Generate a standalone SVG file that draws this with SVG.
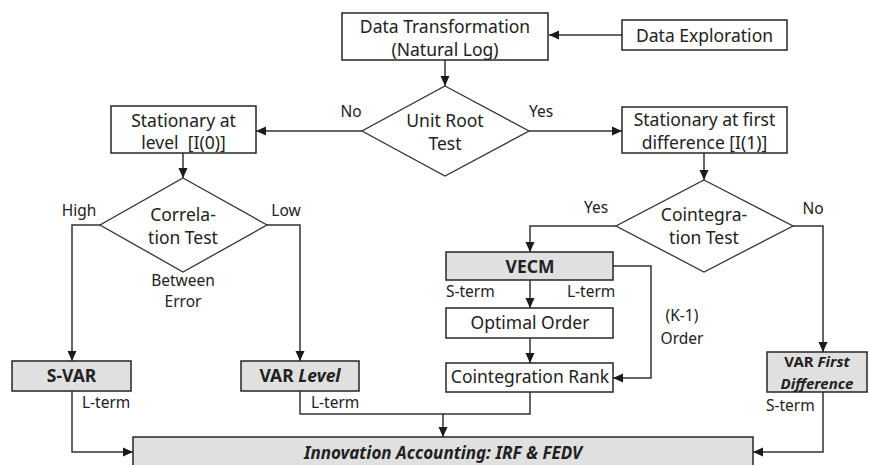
<svg xmlns="http://www.w3.org/2000/svg" width="869" height="465" viewBox="0 0 869 465">
<defs>
<marker id="ah" markerUnits="userSpaceOnUse" markerWidth="10" markerHeight="10" viewBox="0 0 10 10" refX="10" refY="5" orient="auto">
<path d="M0,0.5 L10,5 L0,9.5 Z" fill="#1a1a1a"/>
</marker>
<style>
.box{fill:#fff;stroke:#262626;stroke-width:1.5}
.gbox{fill:#e0e0e0;stroke:#262626;stroke-width:1.5}
.dia{fill:#fff;stroke:#333;stroke-width:1.3}
.t{font-family:"Noto Sans","Open Sans",sans-serif;font-size:17.5px;fill:#222;text-anchor:middle}
.b{font-weight:bold}
.i{font-style:italic}
.lbl{font-family:"Noto Sans","Open Sans",sans-serif;font-size:15.5px;fill:#222}
.c{fill:none;stroke:#333;stroke-width:1.5}
.ar{marker-end:url(#ah)}
</style>
</defs>
<rect width="869" height="465" fill="#fff"/>
<g id="connectors">
<line class="c ar" x1="622" y1="35" x2="549" y2="35"/>
<line class="c ar" x1="445" y1="60" x2="445" y2="86"/>
<line class="c ar" x1="362" y1="131" x2="256" y2="131"/>
<line class="c ar" x1="529" y1="131" x2="622" y2="131"/>
<line class="c ar" x1="183" y1="153" x2="183" y2="178"/>
<polyline class="c ar" points="100,225 72,225 72,361"/>
<polyline class="c ar" points="267,225 300,225 300,361"/>
<line class="c ar" x1="704" y1="153" x2="704" y2="180"/>
<polyline class="c ar" points="616,226 530,226 530,252"/>
<polyline class="c ar" points="793,226 823,226 823,352"/>
<line class="c ar" x1="530" y1="280" x2="530" y2="308"/>
<line class="c ar" x1="530" y1="338" x2="530" y2="363"/>
<polyline class="c ar" points="613,266 651,266 651,378 613,378"/>
<polyline class="c ar" points="72,391 72,452 133,452"/>
<polyline class="c ar" points="300,391 300,414 443,414 443,437"/>
<polyline class="c" points="530,392 530,414 443,414"/>
<polyline class="c ar" points="823,392 823,452 753,452"/>
<text class="lbl" x="351" y="117" text-anchor="middle">No</text>
<text class="lbl" x="541" y="117" text-anchor="middle">Yes</text>
<text class="lbl" x="79" y="216" text-anchor="middle">High</text>
<text class="lbl" x="286" y="216" text-anchor="middle">Low</text>
<text class="lbl" x="183" y="286" text-anchor="middle">Between</text>
<text class="lbl" x="183" y="307" text-anchor="middle">Error</text>
<text class="lbl" x="596" y="213" text-anchor="middle">Yes</text>
<text class="lbl" x="813" y="214" text-anchor="middle">No</text>
<text class="lbl" x="446" y="297">S-term</text>
<text class="lbl" x="567" y="297">L-term</text>
<text class="lbl" x="682" y="321" text-anchor="middle">(K-1)</text>
<text class="lbl" x="682" y="344" text-anchor="middle">Order</text>
<text class="lbl" x="82" y="408">L-term</text>
<text class="lbl" x="311" y="408">L-term</text>
<text class="lbl" x="766" y="411">S-term</text>
</g>
<g id="data-exploration">
<rect class="box" x="622" y="20" width="165" height="30"/>
<text class="t" x="704.5" y="41.5">Data Exploration</text>
</g>
<g id="data-transformation">
<rect class="box" x="342" y="13" width="206" height="47"/>
<text class="t" x="445" y="33">Data Transformation</text>
<text class="t" x="445" y="56">(Natural Log)</text>
</g>
<g id="unit-root-test">
<polygon class="dia" points="445,86 529,131 445,176 362,131"/>
<text class="t" x="445" y="127">Unit Root</text>
<text class="t" x="445" y="150">Test</text>
</g>
<g id="stationary-level">
<rect class="box" x="111" y="106" width="145" height="47"/>
<text class="t" x="183.5" y="127">Stationary at</text>
<text class="t" x="183.5" y="149" xml:space="preserve">level  [I(0)]</text>
</g>
<g id="stationary-first-difference">
<rect class="box" x="622" y="107" width="165" height="46"/>
<text class="t" x="704.5" y="126">Stationary at first</text>
<text class="t" x="704.5" y="149">difference [I(1)]</text>
</g>
<g id="correlation-test">
<polygon class="dia" points="183,178 267,225 183,272 100,225"/>
<text class="t" x="183" y="221">Correla-</text>
<text class="t" x="183" y="244">tion Test</text>
</g>
<g id="cointegration-test">
<polygon class="dia" points="704,180 793,226 704,272 616,226"/>
<text class="t" x="704" y="221">Cointegra-</text>
<text class="t" x="704" y="244">tion Test</text>
</g>
<g id="vecm">
<rect class="gbox" x="446" y="252" width="167" height="28"/>
<text class="t b" x="530" y="273">VECM</text>
</g>
<g id="optimal-order">
<rect class="box" x="446" y="308" width="167" height="30"/>
<text class="t" x="530" y="329">Optimal Order</text>
</g>
<g id="cointegration-rank">
<rect class="box" x="446" y="363" width="167" height="29"/>
<text class="t" x="530" y="383">Cointegration Rank</text>
</g>
<g id="s-var">
<rect class="gbox" x="12" y="361" width="119" height="30"/>
<text class="t b" x="71.5" y="382">S-VAR</text>
</g>
<g id="var-level">
<rect class="gbox" x="241" y="361" width="118" height="30"/>
<text class="t b" x="300" y="382">VAR <tspan class="i">Level</tspan></text>
</g>
<g id="var-first-difference">
<rect class="gbox" x="767" y="352" width="100" height="40"/>
<text class="t b" x="817" y="367" style="font-size:15px">VAR <tspan class="i">First</tspan></text>
<text class="t b i" x="817" y="389" style="font-size:15px">Difference</text>
</g>
<g id="innovation-accounting">
<rect class="gbox" x="133" y="437" width="620" height="40"/>
<text class="t b i" x="443" y="459" style="font-size:17px">Innovation Accounting: IRF &amp; FEDV</text>
</g>
</svg>
